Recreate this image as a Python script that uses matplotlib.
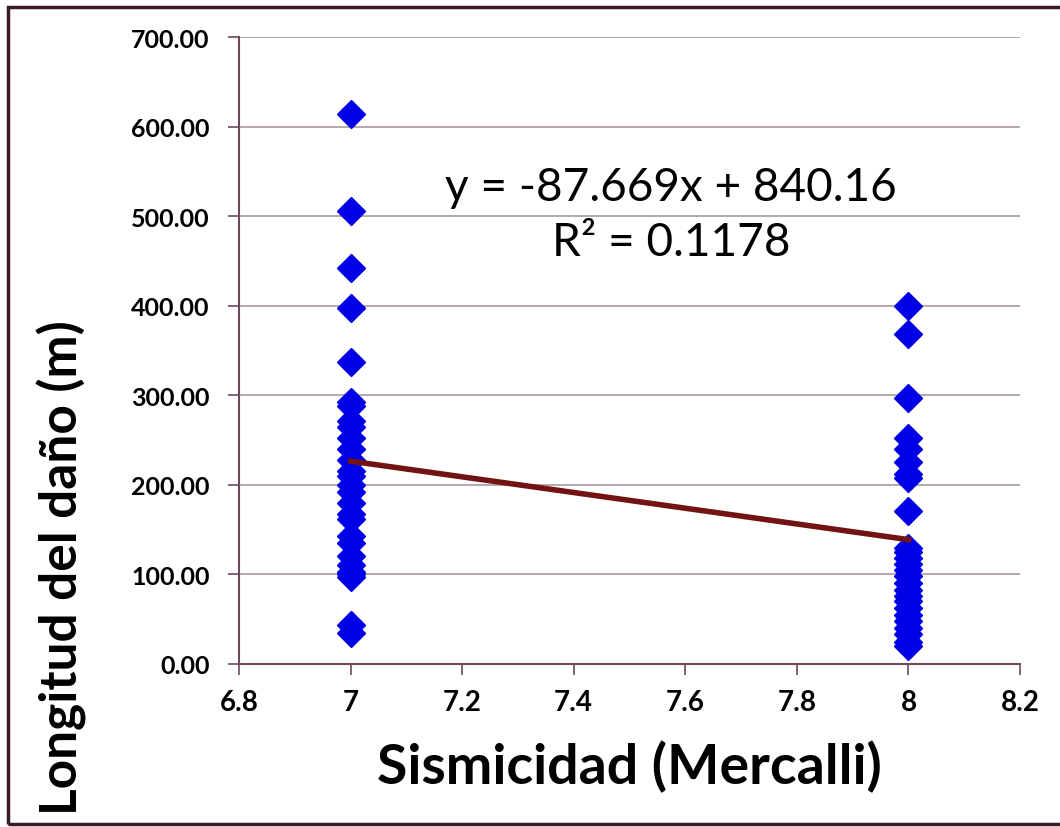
import matplotlib.pyplot as plt
from matplotlib.patches import Rectangle
from matplotlib.ticker import FormatStrFormatter
import numpy as np

# Longitud del daño por grado de sismicidad
sismo_7 = [614, 506, 442, 397, 337, 293, 288, 271, 265, 252, 240, 228, 215, 210,
           200, 192, 180, 167, 162, 143, 135, 120, 110, 103, 100, 97, 43, 35]
sismo_8 = [400, 368, 297, 252, 240, 226, 212, 208, 171, 130, 125, 118, 112, 105,
           98, 90, 83, 76, 70, 63, 55, 48, 40, 33, 25, 20]

# linea de tendencia (Excel)
pendiente = -87.669
intercepto = 840.16
r2 = 0.1178

x_ticks = [6.8, 7.0, 7.2, 7.4, 7.6, 7.8, 8.0, 8.2]
x_labels = ['6.8', '7', '7.2', '7.4', '7.6', '7.8', '8', '8.2']
y_ticks = [0, 100, 200, 300, 400, 500, 600, 700]

plt.rcParams['font.family'] = ['Lato', 'DejaVu Sans']

fig = plt.figure(figsize=(10.6, 8.28), dpi=100)
ax = fig.add_axes([0.2255, 0.1969, 0.7368, 0.7572])

ax.yaxis.grid(True, color='#a89aa0', linewidth=1.2)
ax.set_axisbelow(True)

ax.plot([7] * len(sismo_7), sismo_7, 'D', color='#0000e6', markersize=14, zorder=3)
ax.plot([8] * len(sismo_8), sismo_8, 'D', color='#0000e6', markersize=14, zorder=3)

xt = np.array([7, 8])
ax.plot(xt, pendiente * xt + intercepto, color='#731313', linewidth=4, zorder=4)

ax.text(7.575, 533, f'y = {pendiente}x + {intercepto}', ha='center', va='center',
        fontsize=33)
ax.text(7.575, 471, f'R² = {r2}', ha='center', va='center', fontsize=33)

ax.set_xlim(6.8, 8.2)
ax.set_ylim(0, 700)
ax.set_xticks(x_ticks)
ax.set_xticklabels(x_labels)
ax.set_yticks(y_ticks)
ax.yaxis.set_major_formatter(FormatStrFormatter('%.2f'))

for s in ['top', 'right']:
    ax.spines[s].set_visible(False)
for s in ['left', 'bottom']:
    ax.spines[s].set_color('#6b4a5e')
    ax.spines[s].set_linewidth(1.5)

ax.tick_params(axis='both', colors='#6b4a5e', length=8, width=1.2)
ax.tick_params(axis='x', labelsize=20, labelcolor='black', pad=10)
ax.tick_params(axis='y', labelsize=18, labelcolor='black', pad=13)
for lab in ax.get_xticklabels() + ax.get_yticklabels():
    lab.set_fontweight('bold')

fig.text(0.594, 0.074, 'Sismicidad (Mercalli)', ha='center', va='center',
         fontsize=40, fontweight='bold')
fig.text(0.058, 0.314, 'Longitud del daño (m)', ha='center', va='center',
         rotation=90, fontsize=37, fontweight='bold')

# marco exterior
fig.patches.append(Rectangle((0.0075, 0.004), 1.0, 0.986, transform=fig.transFigure,
                             fill=False, edgecolor='#3a1a2a', linewidth=2.5))

plt.savefig('out.png', dpi=100)
plt.close()
